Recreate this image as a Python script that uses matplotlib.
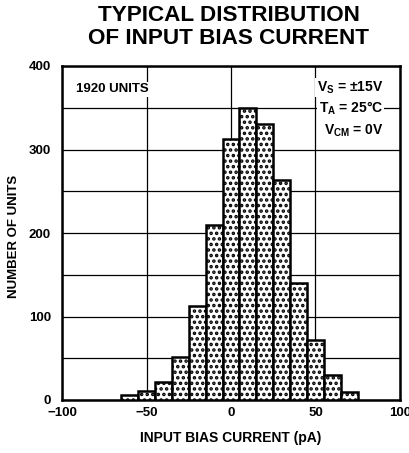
import matplotlib
matplotlib.use("Agg")
import matplotlib.pyplot as plt
import numpy as np

plt.rcParams['font.family'] = ['Liberation Sans', 'DejaVu Sans']
plt.rcParams['font.weight'] = 'bold'
plt.rcParams['mathtext.fontset'] = 'custom'
plt.rcParams['mathtext.rm'] = 'Liberation Sans:bold'
plt.rcParams['mathtext.bf'] = 'Liberation Sans:bold'
plt.rcParams['mathtext.default'] = 'bf'
plt.rcParams['hatch.linewidth'] = 1.7

# Data
bin_left = [-65, -55, -45, -35, -25, -15, -5, 5, 15, 25, 35, 45, 55, 65]
counts = [6, 11, 21, 51, 113, 209, 313, 350, 330, 263, 140, 72, 30, 9]
bin_width = 10
x_ticks = [-100, -50, 0, 50, 100]
y_ticks = [0, 100, 200, 300, 400]

fig = plt.figure(figsize=(4.10, 4.53), dpi=100)
ax = fig.add_axes([62/410, 53/453, 338/410, 334/453])

ax.set_xlim(-100, 100)
ax.set_ylim(0, 400)
ax.set_xticks(x_ticks)
ax.set_yticks(y_ticks)
ax.set_yticks([50, 150, 250, 350], minor=True)
ax.grid(True, which='both', color='black', linewidth=0.9)
ax.set_axisbelow(True)
ax.tick_params(which='both', length=0)
ax.tick_params(axis='y', pad=8, labelsize=9.5)
ax.tick_params(axis='x', pad=5, labelsize=9.5)
ax.set_xticklabels(['\u2212100', '\u221250', '0', '50', '100'], fontweight='bold')
ax.set_yticklabels([str(v) for v in y_ticks], fontweight='bold')
for s in ax.spines.values():
    s.set_linewidth(1.8)

ax.bar(bin_left, counts, width=bin_width, align='edge', facecolor='white',
       edgecolor='black', linewidth=1.8, hatch='...', zorder=3)

ax.set_xlabel('INPUT BIAS CURRENT (pA)', fontsize=10, fontweight='bold', labelpad=9)
ax.set_ylabel('NUMBER OF UNITS', fontsize=9.5, fontweight='bold')
ax.yaxis.set_label_coords(-0.125, 0.49)

bbox = dict(facecolor='white', edgecolor='none', pad=1)
ax.text(-91.5, 372, '1920 UNITS', fontsize=9.5, fontweight='bold', va='center',
        ha='left', bbox=bbox, zorder=4)
ax.text(90, 374, 'V$_{S}$ = \u00b115V', fontsize=10,
        fontweight='bold', va='center', ha='right', bbox=bbox, zorder=4)
ax.text(90, 349, 'T$_{A}$ = 25\u00b0C', fontsize=10, fontweight='bold',
        va='center', ha='right', bbox=bbox, zorder=4)
ax.text(90, 322, 'V$_{CM}$ = 0V', fontsize=10, fontweight='bold',
        va='center', ha='right', bbox=bbox, zorder=4)

fig.text(229/410, 1 - 27/453, 'TYPICAL DISTRIBUTION\nOF INPUT BIAS CURRENT',
         fontsize=16.2, fontweight='bold', ha='center', va='center', linespacing=1.12)

fig.savefig('out.png', dpi=100, facecolor='white')
